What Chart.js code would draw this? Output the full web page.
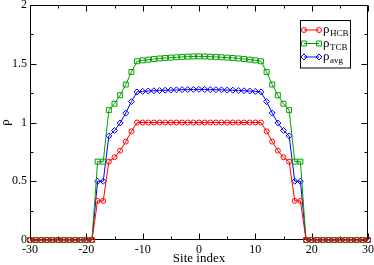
<!DOCTYPE html>
<html><head><meta charset="utf-8">
<script src="https://cdn.jsdelivr.net/npm/chart.js@4/dist/chart.umd.min.js"></script>
<style>html,body{margin:0;padding:0;background:#fff}canvas{display:block}</style>
</head><body>
<canvas id="c" width="374" height="265"></canvas>
<script>
const sites = [-30,-29,-28,-27,-26,-25,-24,-23,-22,-21,-20,-19,-18,-17,-16,-15,-14,-13,-12,-11,-10,-9,-8,-7,-6,-5,-4,-3,-2,-1,0,1,2,3,4,5,6,7,8,9,10,11,12,13,14,15,16,17,18,19,20,21,22,23,24,25,26,27,28,29,30];
const rhoHCB = [0,0,0,0,0,0,0,0,0,0,0,0,
  0.333,0.333,0.667,0.704,0.760,0.837,0.925,
  1,1,1,1,1,1,1,1,1,1,1,1,1,1,1,1,1,1,1,1,1,1,1,
  0.925,0.837,0.760,0.704,0.667,0.333,0.333,
  0,0,0,0,0,0,0,0,0,0,0,0];
const rhoTCB = [0,0,0,0,0,0,0,0,0,0,0,0,
  0.667,0.667,1.105,1.160,1.232,1.323,1.430,
  1.521,1.529,1.535,1.540,1.545,1.549,1.552,1.555,1.558,1.560,1.562,1.563,1.562,1.560,1.558,1.555,1.552,1.549,1.545,1.540,1.535,1.529,1.521,
  1.430,1.323,1.232,1.160,1.105,0.667,0.667,
  0,0,0,0,0,0,0,0,0,0,0,0];
const rhoAvg = [0,0,0,0,0,0,0,0,0,0,0,0,
  0.5,0.5,0.886,0.932,0.996,1.080,1.178,
  1.260,1.265,1.268,1.270,1.272,1.275,1.276,1.278,1.279,1.280,1.281,1.282,1.281,1.280,1.279,1.278,1.276,1.275,1.272,1.270,1.268,1.265,1.260,
  1.178,1.080,0.996,0.932,0.886,0.5,0.5,
  0,0,0,0,0,0,0,0,0,0,0,0];
const xTicks = [-30,-20,-10,0,10,20,30];
const yTicks = [0,0.5,1,1.5,2];
const seriesNames = [['ρ','HCB'],['ρ','TCB'],['ρ','avg']];
const colors = ['#ff0000','#00a000','#0000ff'];
const styles = ['circle','rect','rectRot'];
const radii = [2.5,3.5,3];

const SERIF = "'Liberation Serif','Times New Roman',serif";
function pts(vals){ return sites.map((s,i)=>({x:s,y:vals[i]})); }
function ds(i, vals){
  return {label: seriesNames[i].join(''), data: pts(vals), borderColor: colors[i], backgroundColor:'rgba(0,0,0,0)',
    borderWidth:1, pointStyle: styles[i], pointRadius: radii[i], pointBorderWidth:1,
    pointBorderColor: colors[i], pointBackgroundColor:'rgba(0,0,0,0)', tension:0, clip:false};
}

const framePlugin = {
  id:'frame',
  beforeDatasetsDraw(chart){
    const {ctx, chartArea:a, scales:{x,y}} = chart;
    ctx.save();
    ctx.strokeStyle='#000'; ctx.lineWidth=1;
    const L=Math.round(a.left)+0.5, R=Math.round(a.right)-0.5, T=Math.round(a.top)+0.5, B=Math.round(a.bottom)-0.5;
    ctx.strokeRect(L,T,R-L,B-T);
    ctx.beginPath();
    for(let v=-30; v<=30; v+=5){
      const px=Math.round(x.getPixelForValue(v))+0.5;
      const len = xTicks.includes(v)?6:3;
      ctx.moveTo(px,B); ctx.lineTo(px,B-len);
      ctx.moveTo(px,T); ctx.lineTo(px,T+len);
    }
    for(let k=0; k<=8; k++){
      const v=k*0.25;
      const py=Math.round(y.getPixelForValue(v))+0.5;
      const len = yTicks.includes(v)?6:3;
      ctx.moveTo(L,py); ctx.lineTo(L+len,py);
      ctx.moveTo(R,py); ctx.lineTo(R-len,py);
    }
    ctx.stroke();
    ctx.restore();
  },
  afterDraw(chart){
    const ctx=chart.ctx;
    ctx.save();
    ctx.strokeStyle='#000'; ctx.lineWidth=1;
    ctx.fillStyle='#fff';
    ctx.fillRect(300.5,20.5,50,47.5);
    ctx.strokeRect(300.5,20.5,50,47.5);
    const rows=[30,43.5,57];
    for(let i=0;i<3;i++){
      const yy=rows[i];
      ctx.strokeStyle=colors[i]; ctx.lineWidth=1;
      ctx.beginPath(); ctx.moveTo(304,yy); ctx.lineTo(319,yy); ctx.stroke();
      ctx.fillStyle='rgba(0,0,0,0)';
      for(const xx of [304,319]){
        Chart.helpers.drawPoint(ctx,{pointStyle:styles[i],radius:radii[i],rotation:0,borderWidth:1},xx,yy);
      }
      ctx.fillStyle='#000';
      ctx.textBaseline='alphabetic'; ctx.textAlign='left';
      ctx.font='13px '+SERIF;
      ctx.fillText(seriesNames[i][0],323,yy+3);
      const w=ctx.measureText(seriesNames[i][0]).width;
      ctx.font='9px '+SERIF;
      ctx.fillText(seriesNames[i][1],323+w+0.5,yy+6);
    }
    ctx.restore();
  }
};

new Chart(document.getElementById('c'),{
  type:'line',
  data:{datasets:[ds(0,rhoHCB),ds(1,rhoTCB),ds(2,rhoAvg)]},
  options:{
    responsive:false, animation:false, devicePixelRatio:1,
    layout:{padding:{left:0,right:6,top:5,bottom:0}},
    plugins:{legend:{display:false},tooltip:{enabled:false}},
    scales:{
      x:{type:'linear',min:-30,max:30,
        ticks:{stepSize:5,autoSkip:false,maxRotation:0,padding:3,color:'#000',font:{family:SERIF,size:12},
          callback:v=>xTicks.includes(v)?String(v):''},
        grid:{display:false,drawTicks:false,tickLength:0}, border:{display:false},
        title:{display:true,text:'Site index',color:'#000',font:{family:SERIF,size:13,lineHeight:1},padding:{top:0,bottom:0}},
        afterFit(s){s.height=25; s.paddingLeft=0; s.paddingRight=0;}
      },
      y:{type:'linear',min:0,max:2,
        ticks:{stepSize:0.25,autoSkip:false,padding:3,color:'#000',font:{family:SERIF,size:12},
          callback:v=>yTicks.includes(v)?String(v):''},
        grid:{display:false,drawTicks:false,tickLength:0}, border:{display:false},
        title:{display:true,text:'ρ',color:'#000',font:{family:SERIF,size:13,lineHeight:1},padding:{top:-1,bottom:0}},
        afterFit(s){s.width=30; s.paddingTop=0; s.paddingBottom=0;}
      }
    }
  },
  plugins:[framePlugin]
});
</script>
</body></html>
